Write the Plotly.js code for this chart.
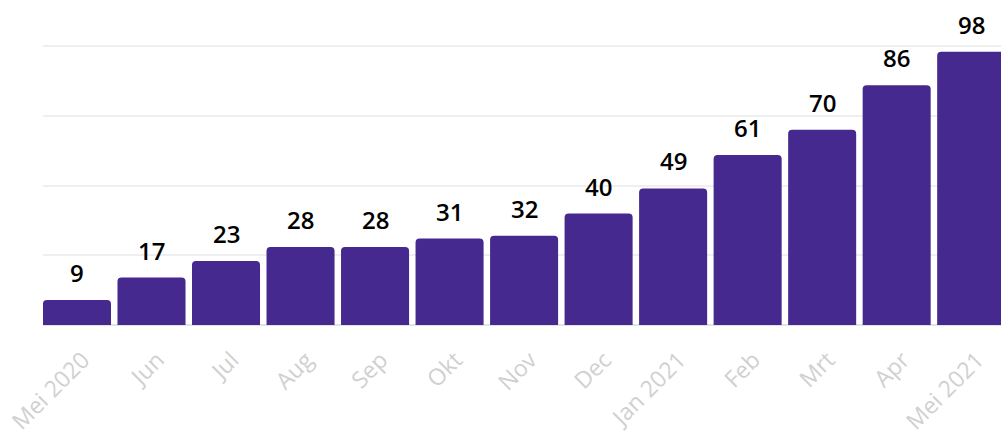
<!DOCTYPE html>
<html>
<head>
<meta charset="utf-8">
<script src="https://cdn.plot.ly/plotly-3.0.1.min.js"></script>
<style>html,body{margin:0;padding:0;background:#fff;}#chart{width:1001px;height:441px;}</style>
</head>
<body>
<div id="chart"></div>
<script>
var months = ["Mei 2020","Jun","Jul","Aug","Sep","Okt","Nov","Dec","Jan 2021","Feb","Mrt","Apr","Mei 2021"];
var values = [9,17,23,28,28,31,32,40,49,61,70,86,98];

var trace = {
  type: 'bar',
  x: months,
  y: values,
  marker: {color: '#45298f', cornerradius: 4},
  hoverinfo: 'none'
};

var labels = months.map(function (m, i) {
  return {
    x: m, y: values[i], xref: 'x', yref: 'y',
    text: String(values[i]),
    showarrow: false, yanchor: 'bottom', yshift: 9,
    font: {family: 'Open Sans, sans-serif', size: 24, color: '#000', weight: 600}
  };
});

var layout = {
  width: 1001, height: 441,
  margin: {l: 43, r: 0, t: 10, b: 116},
  paper_bgcolor: '#fff', plot_bgcolor: '#fff',
  bargap: 0.087,
  showlegend: false,
  annotations: labels,
  xaxis: {
    range: [-0.456, 12.40],
    tickangle: -45,
    tickfont: {family: 'Open Sans, sans-serif', size: 23, color: '#d0d0d0'},
    ticklabelstandoff: 16,
    ticklabelshift: 6,
    showgrid: false, zeroline: false, showline: false, ticks: ''
  },
  yaxis: {
    range: [0, 113],
    tickvals: [0, 25, 50, 75, 100],
    showticklabels: false,
    gridcolor: '#efefef', gridwidth: 2,
    zeroline: true, zerolinecolor: '#e3e3e3', zerolinewidth: 2,
    showline: false, ticks: ''
  }
};

Plotly.newPlot('chart', [trace], layout, {displayModeBar: false, staticPlot: true});
</script>
</body>
</html>
